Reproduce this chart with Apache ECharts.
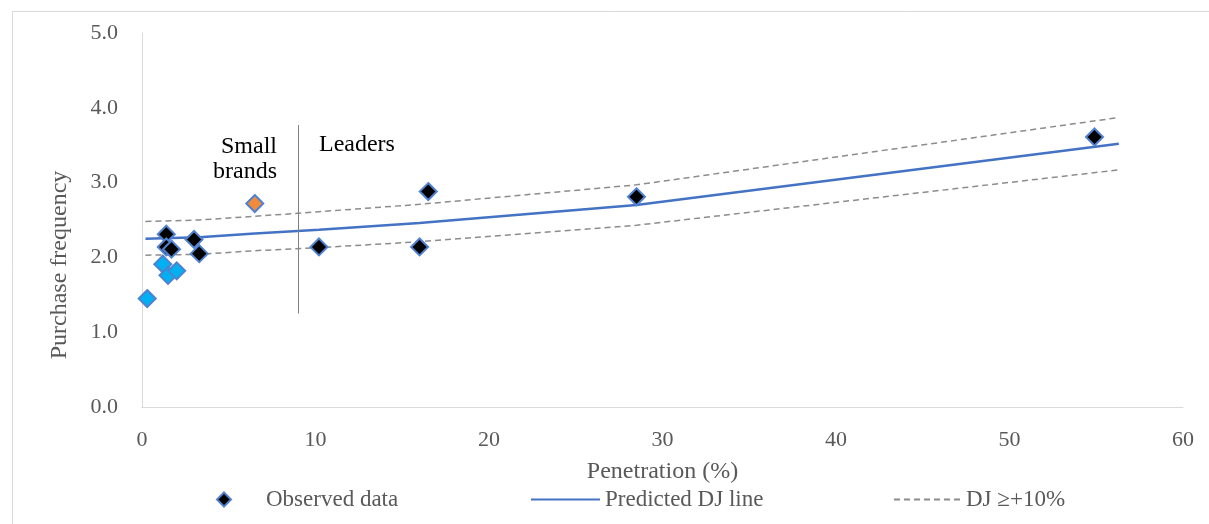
<!DOCTYPE html>
<html>
<head>
<meta charset="utf-8">
<script src="https://cdn.jsdelivr.net/npm/echarts@6/dist/echarts.min.js"></script>
<style>html,body{margin:0;padding:0;background:#fff;}#chart{width:1209px;height:524px;}</style>
</head>
<body>
<div id="chart"></div>
<script>
// Observed brands: penetration (%), purchase frequency, group
var obsPen  = [0.3, 1.2, 1.5, 2.0, 1.4, 1.4, 1.7, 3.0, 3.3, 6.5, 10.2, 16.0, 16.5, 28.5, 54.9];
var obsFreq = [1.45, 1.91, 1.76, 1.82, 2.31, 2.14, 2.11, 2.24, 2.05, 2.72, 2.14, 2.14, 2.88, 2.81, 3.61];
var obsGroup = ['light','light','light','light','black','black','black','black','black','orange','black','black','black','black','black'];

// Predicted DJ line
var predPen  = [0.2, 3.3, 6.5, 10.2, 16.0, 16.5, 28.5, 56.3];
var predFreq = [2.25, 2.27, 2.32, 2.37, 2.46, 2.47, 2.70, 3.52];
// DJ +/-10% bands
var upperFreq = [2.48, 2.50, 2.55, 2.61, 2.71, 2.72, 2.97, 3.87];
var lowerFreq = [2.03, 2.04, 2.09, 2.13, 2.21, 2.22, 2.43, 3.17];

// Divider between small brands and leaders
var dividerX = 9;
var dividerY = [1.25, 3.77];

var xTicks = [0, 10, 20, 30, 40, 50, 60];
var yTicks = [0, 1, 2, 3, 4, 5];

var groupColor = { light: '#00B0F0', black: '#000000', orange: '#F08B3C' };

var FONT = '"Liberation Serif", "DejaVu Serif", serif';

var obsData = obsPen.map(function (p, i) {
  return { value: [p, obsFreq[i]], itemStyle: { color: groupColor[obsGroup[i]] } };
});
function pairs(xs, ys) { return xs.map(function (x, i) { return [x, ys[i]]; }); }

var legendText = { fontFamily: FONT, fontSize: 23, color: '#595959' };

var chart = echarts.init(document.getElementById('chart'));
chart.setOption({
  animation: false,
  backgroundColor: '#ffffff',
  grid: { left: 142, right: 26, top: 33, bottom: 117 },
  xAxis: {
    type: 'value', min: xTicks[0], max: xTicks[xTicks.length - 1], interval: 10,
    name: 'Penetration (%)', nameLocation: 'middle', nameGap: 53,
    nameTextStyle: { fontFamily: FONT, fontSize: 24, color: '#595959' },
    axisLine: { show: true, lineStyle: { color: '#d9d9d9', width: 1 } },
    axisTick: { show: false },
    splitLine: { show: false },
    axisLabel: { fontFamily: FONT, fontSize: 22, color: '#595959', margin: 22 }
  },
  yAxis: {
    type: 'value', min: yTicks[0], max: yTicks[yTicks.length - 1], interval: 1,
    axisLine: { show: true, lineStyle: { color: '#d9d9d9', width: 1 } },
    axisTick: { show: false },
    splitLine: { show: false },
    axisLabel: { fontFamily: FONT, fontSize: 22, color: '#595959', margin: 24,
      formatter: function (v) { return v.toFixed(1); } }
  },
  legend: [
    { data: [{ name: 'Observed data', icon: 'diamond' }], left: 216, top: 488, padding: 0,
      itemWidth: 14, itemHeight: 14,
      textStyle: Object.assign({ padding: [0, 0, 0, 30] }, legendText) },
    { data: ['Predicted DJ line'], left: 530, top: 488, padding: 0, itemWidth: 69, itemHeight: 14,
      itemStyle: { opacity: 0 }, textStyle: legendText },
    { data: ['DJ \u2265+10%'], left: 893, top: 488, padding: 0, itemWidth: 67, itemHeight: 14,
      itemStyle: { opacity: 0 }, textStyle: legendText }
  ],
  graphic: [
    { type: 'rect', left: 10, top: 9, silent: true,
      shape: { width: 1230, height: 540 },
      style: { fill: 'none', stroke: '#d9d9d9', lineWidth: 1 } },
    { type: 'text', x: 60, y: 265, rotation: Math.PI / 2, silent: true,
      style: { text: 'Purchase frequency', fontFamily: FONT, fontSize: 24, fill: '#595959',
        align: 'center', verticalAlign: 'middle' } },
    { type: 'text', x: 277, y: 134, silent: true,
      style: { text: 'Small\nbrands', fontFamily: FONT, fontSize: 24, fill: '#000', align: 'right', lineHeight: 25 } },
    { type: 'text', x: 319, y: 133, silent: true,
      style: { text: 'Leaders', fontFamily: FONT, fontSize: 24, fill: '#000' } }
  ],
  series: [
    {
      name: 'DJ \u2265+10%', type: 'line', data: pairs(predPen, upperFreq),
      symbol: 'none', z: 2,
      lineStyle: { color: '#8c8c8c', width: 1.5, type: [6, 4] },
      itemStyle: { color: '#8c8c8c' }
    },
    {
      name: 'DJ lower', type: 'line', data: pairs(predPen, lowerFreq),
      symbol: 'none', z: 2,
      lineStyle: { color: '#8c8c8c', width: 1.5, type: [6, 4] },
      itemStyle: { color: '#8c8c8c' }
    },
    {
      name: 'Predicted DJ line', type: 'line', data: pairs(predPen, predFreq),
      symbol: 'none', z: 3,
      lineStyle: { color: '#4472C4', width: 2.5 },
      itemStyle: { color: '#4472C4' },
      markLine: {
        silent: true, symbol: 'none', label: { show: false },
        lineStyle: { color: '#808080', width: 1, type: 'solid' },
        data: [[{ coord: [dividerX, dividerY[0]] }, { coord: [dividerX, dividerY[1]] }]]
      }
    },
    {
      name: 'Observed data', type: 'scatter', data: obsData,
      symbol: 'diamond', symbolSize: 17, z: 4,
      itemStyle: { color: '#000000', borderColor: '#4F81D0', borderWidth: 2, opacity: 1 }
    }
  ]
});
</script>
</body>
</html>
